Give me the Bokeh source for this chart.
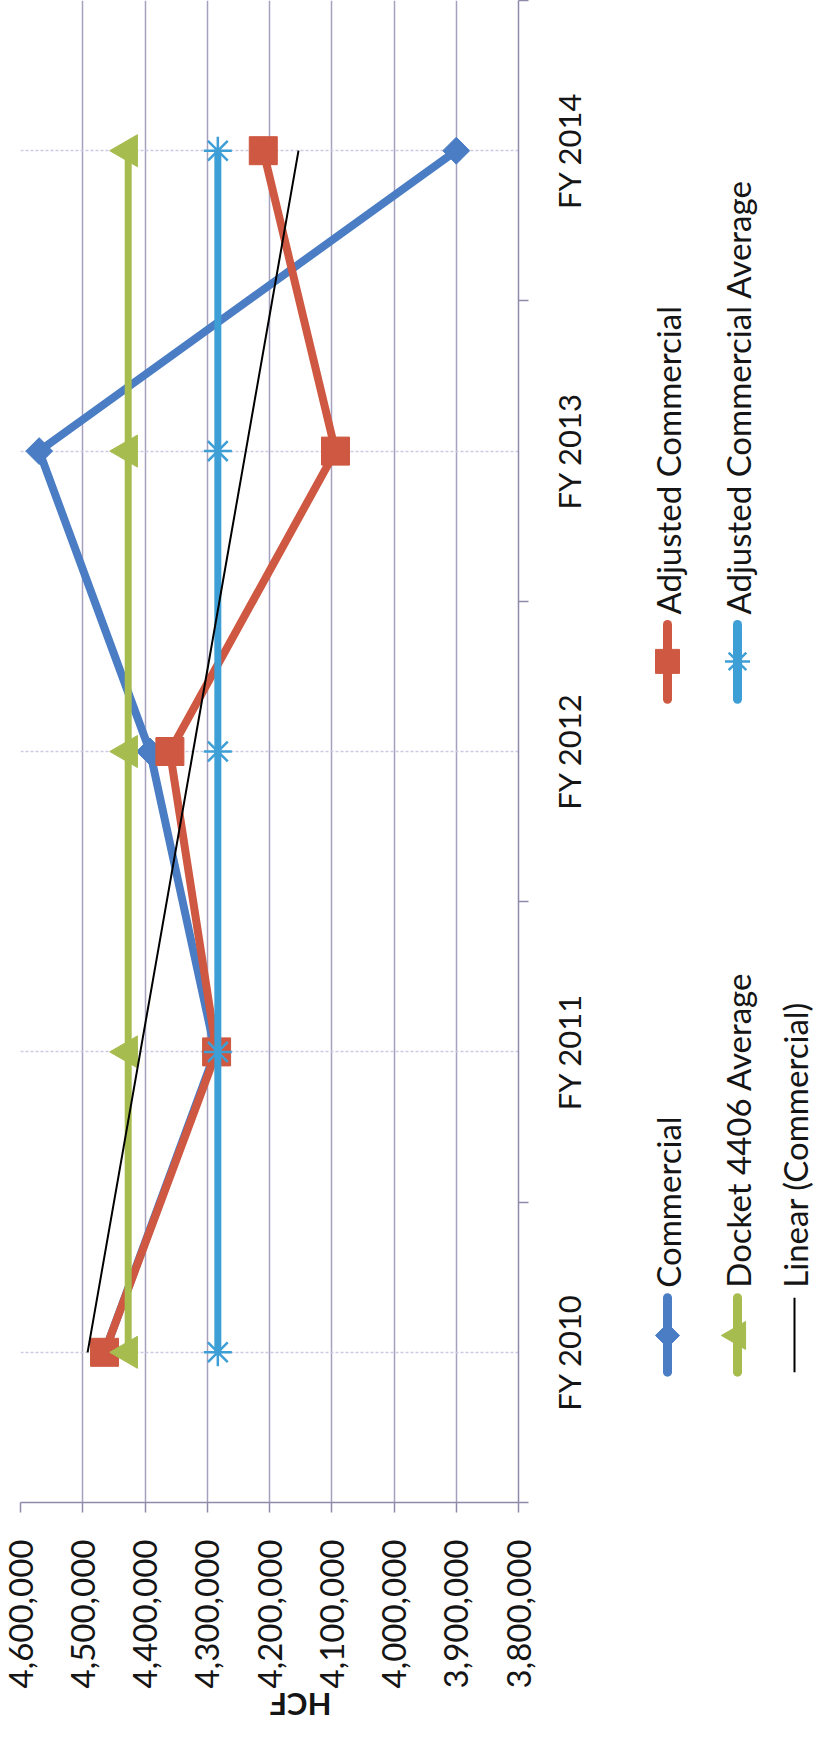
import math
import numpy as np
from bokeh.plotting import figure
from bokeh.layouts import row
from bokeh.models import Range1d, FixedTicker, NumeralTickFormatter
from bokeh.embed import file_html
from bokeh.resources import INLINE
from bokeh.core.properties import value

# ---------------- data ----------------
categories = ["FY 2010", "FY 2011", "FY 2012", "FY 2013", "FY 2014"]
commercial = [4465000, 4287000, 4392000, 4570000, 3900000]
adjusted_commercial = [4465000, 4285000, 4360000, 4094000, 4210000]
docket_4406_average = [4427000, 4427000, 4427000, 4427000, 4427000]
adjusted_commercial_average = [4283000, 4283000, 4283000, 4283000, 4283000]
value_ticks = [3800000, 3900000, 4000000, 4100000, 4200000, 4300000, 4400000, 4500000, 4600000]
series_names = ["Commercial", "Adjusted Commercial", "Docket 4406 Average",
                "Adjusted Commercial Average", "Linear (Commercial)"]

# ---------------- style ----------------
BLUE = "#4A7DC4"
RED = "#CE5841"
GREEN = "#A7BC4F"
CYAN = "#3D9FD6"
GRID = "#A4A0BE"
AXIS = "#8E8BAA"
CATGRID = "#CACAE2"
TXT = "#151515"
FONT = "Lato"
FS_VAL = "33px"
FS_CAT = "31px"
FS_LEG = "33px"

pos = list(range(1, len(categories) + 1))

FRAME_W, FRAME_H = 498, 1502
LEFT_B, RIGHT_B, BOTTOM_B = 20, 24, 240

p = figure(frame_width=FRAME_W, frame_height=FRAME_H,
           x_range=Range1d(max(value_ticks), min(value_ticks)),
           y_range=Range1d(0.5, len(categories) + 0.5),
           y_axis_location="right",
           output_backend="svg", toolbar_location=None,
           min_border_left=LEFT_B, min_border_right=RIGHT_B,
           min_border_top=0, min_border_bottom=BOTTOM_B)
p.outline_line_color = None
p.background_fill_color = "white"

# value axis (below)
xa = p.xaxis[0]
xa.ticker = FixedTicker(ticks=value_ticks)
xa.formatter = NumeralTickFormatter(format="0,0")
xa.major_label_orientation = math.pi / 2
xa.major_label_text_font = FONT
xa.major_label_text_font_size = FS_VAL
xa.major_label_text_color = TXT
xa.major_label_standoff = 27
xa.major_tick_out = 10
xa.major_tick_in = 0
xa.minor_tick_out = 0
xa.minor_tick_in = 0
xa.axis_line_color = AXIS
xa.axis_line_width = 1.5
xa.major_tick_line_color = AXIS
xa.major_tick_line_width = 1.5
xa.axis_label = "HCF"
xa.axis_label_orientation = math.pi
xa.axis_label_text_font = FONT
xa.axis_label_text_font_style = "bold"
xa.axis_label_text_font_size = "31px"
xa.axis_label_text_color = TXT
xa.axis_label_standoff = 14

# category axis (right): line + boundary ticks; labels drawn centred in side panel
ya = p.yaxis[0]
ya.ticker = FixedTicker(ticks=[], minor_ticks=[k + 0.5 for k in range(0, len(categories) + 1)])
ya.major_label_text_font_size = "0px"
ya.major_label_standoff = 0
ya.major_tick_out = 0
ya.major_tick_in = 0
ya.minor_tick_out = 10
ya.minor_tick_in = 0
ya.minor_tick_line_color = AXIS
ya.minor_tick_line_width = 1.5
ya.axis_line_color = AXIS
ya.axis_line_width = 1.5

p.xgrid.grid_line_color = GRID
p.xgrid.grid_line_width = 1.5
p.ygrid.ticker = FixedTicker(ticks=pos)
p.ygrid.grid_line_color = CATGRID
p.ygrid.grid_line_width = 1.5
p.ygrid.grid_line_dash = "3 2"

# series
p.line(commercial, pos, line_color=BLUE, line_width=8, line_join="round")
p.scatter(commercial, pos, marker="square", angle=math.pi / 4, size=19,
          fill_color=BLUE, line_color=BLUE)

p.line(adjusted_commercial, pos, line_color=RED, line_width=8, line_join="round")
p.scatter(adjusted_commercial, pos, marker="square", size=28,
          fill_color=RED, line_color=RED)

p.line(docket_4406_average, pos, line_color=GREEN, line_width=7)
p.scatter(docket_4406_average, pos, marker="triangle", angle=math.pi / 2, size=32,
          fill_color=GREEN, line_color=GREEN)

p.line(adjusted_commercial_average, pos, line_color=CYAN, line_width=7)
p.scatter(adjusted_commercial_average, pos, marker="asterisk", angle=math.pi / 2, size=28,
          line_color=CYAN, line_width=2.5)

coef = np.polyfit(pos, commercial, 1)
trend = np.polyval(coef, pos)
p.line(list(trend), pos, line_color="black", line_width=2)

# ---------------- side panel: category labels + legend (shares the category scale) ----------------
FIG1_W = LEFT_B + FRAME_W + RIGHT_B
SIDE_W = 816 - FIG1_W
side = figure(frame_width=SIDE_W, frame_height=FRAME_H,
              x_range=Range1d(0, SIDE_W), y_range=p.y_range,
              x_axis_type=None, y_axis_type=None, output_backend="svg", toolbar_location=None,
              min_border_left=0, min_border_right=0, min_border_top=0,
              min_border_bottom=BOTTOM_B)
side.outline_line_color = None
side.grid.visible = False
SIDE_LEFT = 8 + FIG1_W


def sx(page_x):
    return page_x - SIDE_LEFT


# category labels, centred on each category
side.text(x=[sx(576)] * len(categories), y=pos, text=categories, angle=math.pi / 2,
          text_align="center", text_baseline="middle",
          text_font=value(FONT), text_font_size=FS_CAT, text_color=TXT)

col_x = [675, 745, 802]
slot_a = dict(line=(0.934, 1.182), mark=1.056, text=1.215)
slot_b = dict(line=(3.174, 3.423), mark=3.300, text=3.456)

entries = [
    (series_names[0], BLUE, "diamond", col_x[0], slot_a),
    (series_names[1], RED, "square", col_x[0], slot_b),
    (series_names[2], GREEN, "triangle", col_x[1], slot_a),
    (series_names[3], CYAN, "asterisk", col_x[1], slot_b),
    (series_names[4], "black", None, col_x[2], slot_a),
]

for name, color, mk, cx, slot in entries:
    x = sx(cx)
    y0, y1 = slot["line"]
    if mk is None:
        side.segment(x0=[x], y0=[y0], x1=[x], y1=[y1], line_color=color, line_width=2)
    else:
        side.segment(x0=[x], y0=[y0], x1=[x], y1=[y1], line_color=color, line_width=9,
                     line_cap="round")
        ym = slot["mark"]
        if mk == "diamond":
            side.scatter([x], [ym], marker="square", angle=math.pi / 4, size=17,
                         fill_color=color, line_color=color)
        elif mk == "square":
            side.scatter([x], [ym], marker="square", size=24, fill_color=color, line_color=color)
        elif mk == "triangle":
            side.scatter([x], [ym], marker="triangle", angle=math.pi / 2, size=28,
                         fill_color=color, line_color=color)
        else:
            side.scatter([x], [ym], marker="asterisk", angle=math.pi / 2, size=25,
                         line_color=color, line_width=2.5)
    side.text(x=[x], y=[slot["text"]], text=[name], angle=math.pi / 2,
              text_align="left", text_baseline="middle",
              text_font=value(FONT), text_font_size=FS_LEG, text_color=TXT)

layout = row(p, side)
open("out.html", "w").write(file_html(layout, INLINE))
